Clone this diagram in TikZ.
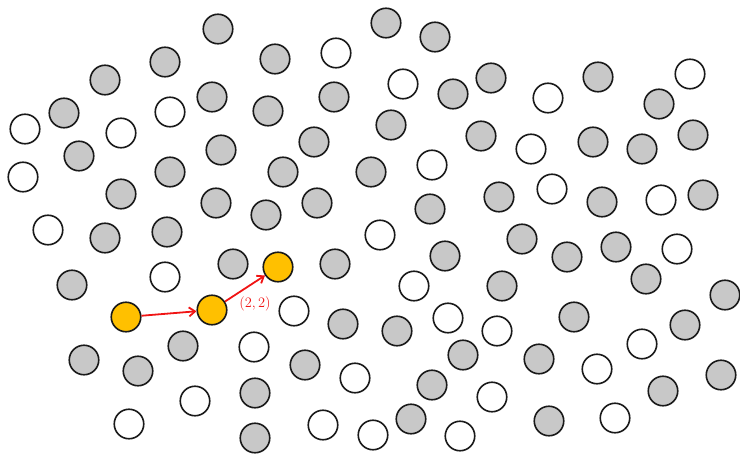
\documentclass[tikz,border=0pt]{standalone}
\usetikzlibrary{arrows.meta}
\definecolor{dotgray}{RGB}{200,200,200}
\definecolor{dotgold}{RGB}{255,192,0}
\definecolor{arrred}{RGB}{240,20,20}
\tikzset{
  dot/.style={circle,draw=black!90,line width=1.6pt,minimum size=29.5pt,inner sep=0pt},
  gdot/.style={dot,fill=dotgray},
  wdot/.style={dot,fill=white},
  odot/.style={dot,fill=dotgold},
  link/.style={draw=arrred,line width=1.8pt,-{Straight Barb[length=6pt,width=9pt]}}
}
\begin{document}
\begin{tikzpicture}[x=1pt,y=-1pt]
\useasboundingbox (0,0) rectangle (740,455);
\foreach \px/\py/\st [count=\i] in {
218/29/gdot, 386/23/gdot, 435/37/gdot, 165/62/gdot, 275/59/gdot, 336/53/wdot,
105/80/gdot, 212/97/gdot, 170/112/wdot, 64/113/gdot, 25/129/wdot, 121/133/wdot,
268/111/gdot, 334/97/gdot, 403/84/wdot, 453/94/gdot, 491/78/gdot, 548/98/wdot,
598/77/gdot, 690/74/wdot, 659/104/gdot, 391/125/gdot, 314/142/gdot, 481/136/gdot,
531/149/wdot, 593/142/gdot, 642/149/gdot, 693/135/gdot, 221/150/gdot, 79/156/gdot,
23/177/wdot, 170/172/gdot, 283/172/gdot, 371/172/gdot, 432/165/wdot, 499/197/gdot,
552/189/wdot, 602/202/gdot, 661/200/wdot, 703/195/gdot, 121/194/gdot, 216/203/gdot,
266/215/gdot, 317/203/gdot, 430/209/gdot, 48/230/wdot, 105/238/gdot, 167/232/gdot,
380/235/wdot, 233/264/gdot, 335/264/gdot, 445/256/gdot, 522/239/gdot, 567/257/gdot,
616/247/gdot, 677/249/wdot, 72/285/gdot, 165/277/wdot, 414/286/wdot, 502/286/gdot,
646/279/gdot, 725/295/gdot, 294/311/wdot, 343/324/gdot, 397/331/gdot, 448/318/wdot,
497/331/wdot, 574/317/gdot, 685/325/gdot, 642/344/wdot, 84/360/gdot, 138/371/gdot,
183/346/gdot, 254/347/wdot, 305/365/gdot, 355/378/wdot, 463/355/gdot, 539/359/gdot,
597/369/wdot, 721/375/gdot, 195/401/wdot, 255/393/gdot, 432/385/gdot, 492/397/wdot,
663/391/gdot, 129/424/wdot, 323/425/wdot, 373/435/wdot, 411/419/gdot, 460/436/wdot,
255/438/gdot, 549/421/gdot, 615/418/wdot}
  \node[\st] (c\i) at (\px,\py) {};
\node[odot] (o1) at (126,317) {};
\node[odot] (o2) at (212,310) {};
\node[odot] (o3) at (278,267) {};
\draw[link] (o1) -- (o2);
\draw[link] (o2) -- (o3);
\node[text=arrred,font=\fontsize{14}{16}\selectfont] (lab) at (255,304) {$(2,2)$};
\end{tikzpicture}
\end{document}
